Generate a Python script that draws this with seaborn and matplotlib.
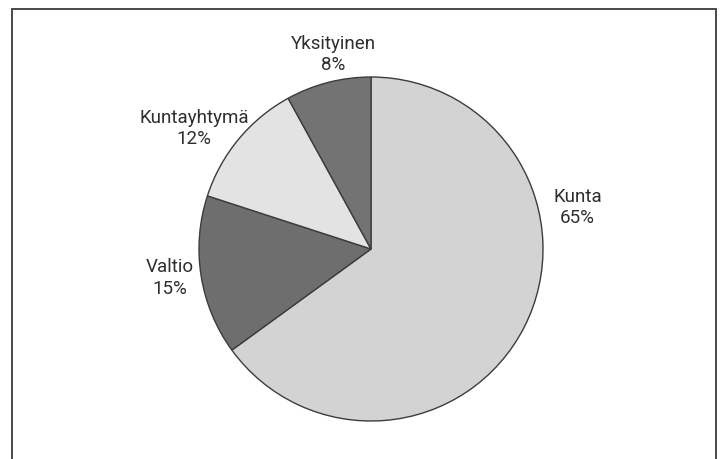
import matplotlib
matplotlib.use("Agg")
import matplotlib.pyplot as plt
import seaborn as sns

# omistajat ja osuudet (%)
labels = ['Kunta', 'Valtio', 'Kuntayhtymä', 'Yksityinen']
shares = [65, 15, 12, 8]
colors = ['#d3d3d3', '#6e6e6e', '#e3e3e3', '#737373']

sns.set_style("white")
plt.rcParams['font.family'] = ['Roboto', 'DejaVu Sans']

fig = plt.figure(figsize=(7.2, 4.59), dpi=100)
ax = fig.add_axes([0, 0, 1, 1])

wedges, texts = ax.pie(
    shares, labels=[f'{l}\n{s}%' for l, s in zip(labels, shares)],
    colors=colors, startangle=90, counterclock=False, radius=1,
    wedgeprops=dict(edgecolor='#3c3c3c', linewidth=1.0),
    textprops=dict(fontsize=13.5, color='#2e2e2e', linespacing=1.25),
)

# tekstien paikat käsin, kuten alkuperäisessä
label_pos = [(1.20, 0.24), (-1.17, -0.17), (-1.03, 0.70), (-0.22, 1.13)]
for t, (x, y) in zip(texts, label_pos):
    t.set_position((x, y))
    t.set_ha('center')
    t.set_va('center')

ax.set_xlim(-371 / 172, (720 - 371) / 172)
ax.set_ylim(-(459 - 249) / 172, 249 / 172)
ax.set_aspect('auto')
ax.axis('off')

# kehys (alareuna puuttuu)
frame = dict(color='#4a4a4a', linewidth=1.4, transform=fig.transFigure)
fig.add_artist(plt.Line2D([12 / 720, 12 / 720], [0, 1 - 9 / 459], **frame))
fig.add_artist(plt.Line2D([716 / 720, 716 / 720], [0, 1 - 9 / 459], **frame))
fig.add_artist(plt.Line2D([12 / 720, 716 / 720], [1 - 9 / 459, 1 - 9 / 459], **frame))

fig.savefig('out.png', dpi=100, facecolor='white')
